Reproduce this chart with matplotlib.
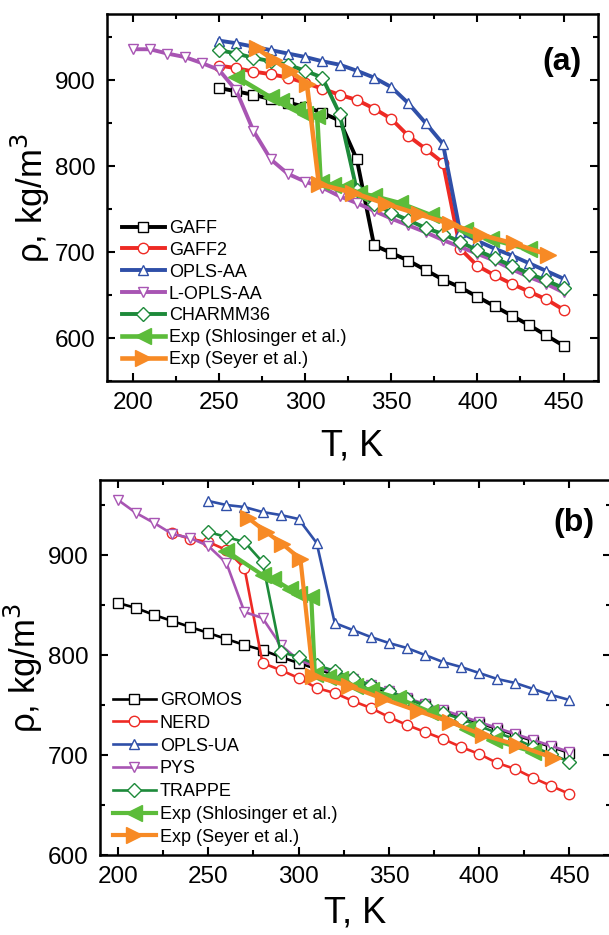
import numpy as np
import matplotlib
matplotlib.use('Agg')
import matplotlib.pyplot as plt
from matplotlib.ticker import MultipleLocator

plt.rcParams['font.family'] = ['Liberation Sans', 'DejaVu Sans']

# ---- panel (a) ----
T_a = list(range(250, 451, 10))
T_lopls = list(range(200, 451, 10))
gaff = [891, 887, 883, 878, 874, 869, 862, 853, 808, 708, 699, 690, 679, 668, 659, 648, 637, 626, 615, 603, 591]
gaff2 = [917, 914, 910, 907, 903, 897, 890, 883, 877, 867, 855, 835, 820, 804, 704, 684, 673, 663, 654, 645, 633]
opls_aa = [946, 943, 939, 935, 931, 927, 922, 918, 911, 903, 892, 873, 850, 826, 723, 713, 704, 696, 687, 678, 669]
l_opls_aa = [936, 936, 931, 927, 920, 912, 888, 841, 808, 791, 782, 775, 765, 757, 748, 739, 731, 723, 714, 706,
             698, 690, 680, 671, 663, 653]
charmm36 = [935, 931, 926, 922, 918, 911, 903, 861, 772, 756, 746, 737, 728, 721, 712, 702, 693, 684, 675, 667, 658]

# ---- panel (b) ----
T_gromos = list(range(200, 451, 10))
gromos = [852, 847, 840, 834, 828, 822, 816, 810, 805, 798, 792, 786, 780, 774, 768, 762, 756, 750, 744, 738,
          732, 726, 720, 714, 708, 702]
T_nerd = list(range(230, 451, 10))
nerd = [922, 916, 913, 905, 887, 792, 785, 777, 767, 762, 754, 747, 738, 730, 723, 716, 708, 701, 692, 686, 677, 669, 661]
T_b = list(range(250, 451, 10))
opls_ua = [954, 950, 948, 943, 940, 936, 912, 832, 825, 818, 812, 807, 800, 793, 788, 782, 776, 772, 766, 760, 755]
T_pys = list(range(200, 451, 10))
pys = [955, 942, 932, 921, 917, 909, 892, 843, 837, 810, 795, 788, 782, 776, 770, 764, 757, 751, 745, 739,
       733, 727, 721, 715, 709, 703]
trappe = [923, 918, 913, 893, 803, 798, 790, 784, 777, 770, 764, 756, 750, 742, 736, 729, 722, 716, 708, 701, 693]

# ---- experiments ----
T_shl = [260, 280, 286, 295, 300, 307, 309, 316, 323, 331, 340, 355, 373, 393, 408, 430]
rho_shl = [904, 880, 876, 866, 861, 858, 781, 778, 776, 769, 765, 757, 743, 726, 715, 703]
T_sey = [272, 282, 291, 301, 308, 328, 347, 366, 384, 402, 421, 441]
rho_sey = [937, 923, 911, 896, 779, 769, 756, 744, 733, 720, 710, 697]

preto = 'black'
vermelho = '#ee2a24'
azul = '#2f4fa8'
roxo = '#a855b3'
verde = '#1d8a3a'
verdeclaro = '#5cbc3a'
laranja = '#f78a25'


def modelo(ax, T, rho, cor, mk, nome, lw):
    ax.plot(T, rho, color=cor, lw=lw, marker=mk, ms=7.5, mfc='white', mec=cor, mew=1.0, label=nome)


def experimento(ax, lw):
    ax.plot(T_shl, rho_shl, color=verdeclaro, lw=lw, marker='<', ms=11, mec=verdeclaro,
            label='Exp (Shlosinger et al.)')
    ax.plot(T_sey, rho_sey, color=laranja, lw=lw, marker='>', ms=11, mec=laranja,
            label='Exp (Seyer et al.)')


def enfeita(ax, xlim, ylim, letra, letra_y, leg_anchor, espaco, xpad):
    ax.set_xlim(*xlim)
    ax.set_ylim(*ylim)
    ax.xaxis.set_major_locator(MultipleLocator(50))
    ax.xaxis.set_minor_locator(MultipleLocator(25))
    ax.yaxis.set_major_locator(MultipleLocator(100))
    ax.yaxis.set_minor_locator(MultipleLocator(50))
    ax.tick_params(which='both', direction='in', top=True, right=True, width=1.5)
    ax.tick_params(which='major', length=6, labelsize=17.5, pad=8)
    ax.tick_params(which='minor', length=3.5)
    for s in ax.spines.values():
        s.set_linewidth(1.8)
    ax.set_xlabel('T, K', fontsize=26, labelpad=xpad)
    ax.set_ylabel('ρ, kg/m$^3$', fontsize=25, labelpad=2)
    ax.text(0.927, letra_y, letra, transform=ax.transAxes, fontsize=23, fontweight='bold',
            ha='center', va='center')
    ax.legend(loc='lower left', bbox_to_anchor=leg_anchor, frameon=False, fontsize=13, numpoints=1,
              handlelength=2.4, handletextpad=0.2, labelspacing=espaco, borderpad=0, borderaxespad=0)


fig = plt.figure(figsize=(6.09, 9.35), dpi=100)

ax1 = fig.add_axes([107 / 609, 1 - 381 / 935, 491 / 609, 367 / 935])
modelo(ax1, T_a, gaff, preto, 's', 'GAFF', 2.8)
modelo(ax1, T_a, gaff2, vermelho, 'o', 'GAFF2', 2.8)
modelo(ax1, T_a, opls_aa, azul, '^', 'OPLS-AA', 2.8)
modelo(ax1, T_lopls, l_opls_aa, roxo, 'v', 'L-OPLS-AA', 2.8)
modelo(ax1, T_a, charmm36, verde, 'D', 'CHARMM36', 2.8)
experimento(ax1, 3.3)
enfeita(ax1, (185, 470), (550, 977), '(a)', 0.87, (0.03, 0.035), 0.27, 10)

ax2 = fig.add_axes([100 / 609, 1 - 855 / 935, 511 / 609, 375 / 935])
modelo(ax2, T_gromos, gromos, preto, 's', 'GROMOS', 1.9)
modelo(ax2, T_nerd, nerd, vermelho, 'o', 'NERD', 1.9)
modelo(ax2, T_b, opls_ua, azul, '^', 'OPLS-UA', 1.9)
modelo(ax2, T_pys, pys, roxo, 'v', 'PYS', 1.9)
modelo(ax2, T_b, trappe, verde, 'D', 'TRAPPE', 1.9)
experimento(ax2, 3.0)
enfeita(ax2, (190, 473), (600, 975), '(b)', 0.885, (0.025, 0.025), 0.32, 5)

fig.savefig('out.png', dpi=100)
